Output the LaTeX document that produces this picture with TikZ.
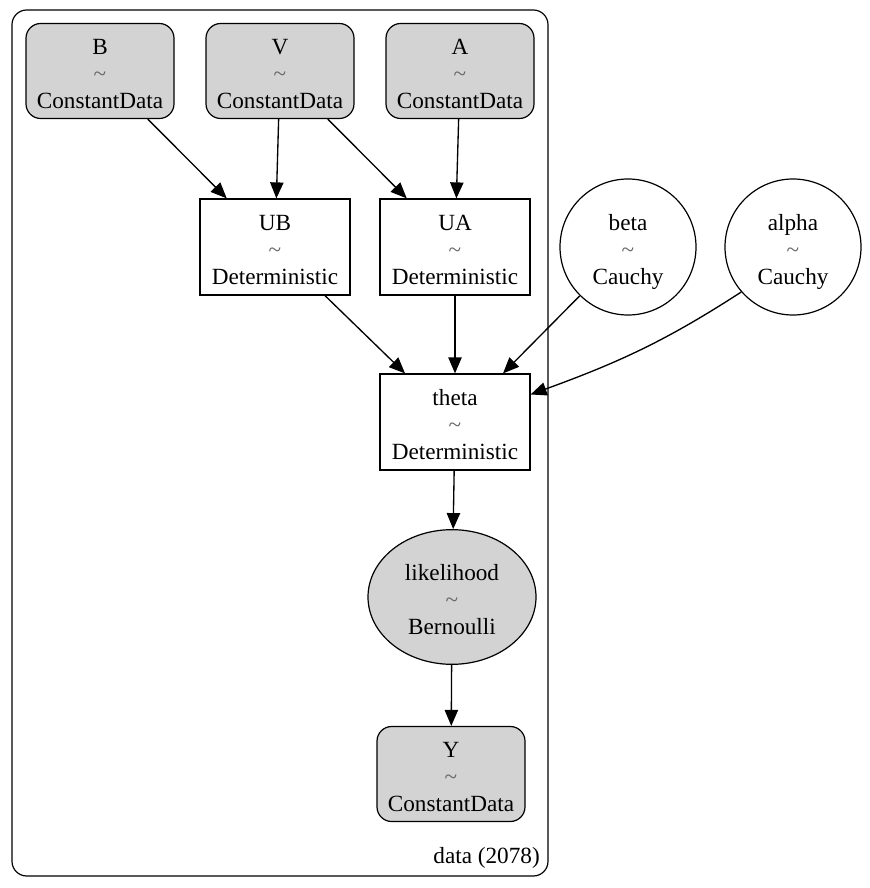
\documentclass[tikz,border=0pt]{standalone}
\usepackage{fontspec}
\setmainfont{Liberation Serif}
\usetikzlibrary{arrows.meta, positioning, shapes.geometric}
\definecolor{lgray}{HTML}{D3D3D3}
\newcommand{\dist}[2]{\rule{0pt}{20pt}#1\\{\color{gray!80!black}\textasciitilde}\\#2\rule[-4pt]{0pt}{4pt}}

\begin{document}
\begin{tikzpicture}[x=0.75pt, y=-0.75pt,
        base/.style={draw, line width=0.9pt, align=center, inner sep=0pt, font=\fontsize{17.4}{20.25}\selectfont},
        cdata/.style={base, rounded corners=11pt, fill=lgray, minimum width=111pt, minimum height=71.25pt},
        det/.style={base, rectangle, minimum width=112.5pt, minimum height=72pt},
        prior/.style={base, circle, minimum size=102pt},
        obs/.style={base, ellipse, fill=lgray, minimum width=126pt, minimum height=101pt},
        edge/.style={-{Triangle[length=12pt, width=10pt]}, line width=1pt}
    ]
        \useasboundingbox (0,0) rectangle (870,888);

        % Plate
        \draw[line width=0.9pt, rounded corners=11pt] (12,10) rectangle (548,876);
        \node[anchor=south east, inner sep=0pt, font=\fontsize{17.4}{20.25}\selectfont] (plate) at (540,869) {data (2078)};

        % Constant data (top row)
        \node[cdata] (B) at (100,71) {\dist{B}{ConstantData}};
        \node[cdata] (V) at (280,71) {\dist{V}{ConstantData}};
        \node[cdata] (A) at (460,71) {\dist{A}{ConstantData}};

        % Deterministic nodes
        \node[det] (UB) at (275,247) {\dist{UB}{Deterministic}};
        \node[det] (UA) at (455,247) {\dist{UA}{Deterministic}};
        \node[det] (theta) at (455,422) {\dist{theta}{Deterministic}};

        % Priors
        \node[prior] (beta) at (628,247) {\dist{beta}{Cauchy}};
        \node[prior] (alpha) at (793,247) {\dist{alpha}{Cauchy}};

        % Likelihood and observed
        \node[obs] (lik) at (452,597) {\dist{likelihood}{Bernoulli}};
        \node[cdata] (Y) at (451,774) {\dist{Y}{ConstantData}};

        % Edges
        \draw[edge] (B) -- (UB);
        \draw[edge] (V) -- (UB);
        \draw[edge] (V) -- (UA);
        \draw[edge] (A) -- (UA);
        \draw[edge] (UB) -- (theta);
        \draw[edge] (UA) -- (theta);
        \draw[edge] (beta) -- (theta);
        \draw[edge] (alpha.221) to[out=213, in=20] (theta.20);
        \draw[edge] (theta) -- (lik);
        \draw[edge] (lik) -- (Y);

    \end{tikzpicture}
\end{document}
